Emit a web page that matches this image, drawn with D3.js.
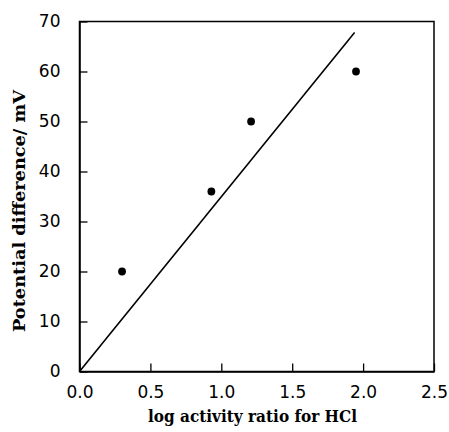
<!DOCTYPE html>
<html><head><meta charset="utf-8">
<script src="https://cdn.jsdelivr.net/npm/d3@7"></script>
<style>body{margin:0;background:#fff}svg{display:block}</style>
</head><body><svg id="c" width="449" height="432"></svg>
<script>
const xTicks = [0.0, 0.5, 1.0, 1.5, 2.0, 2.5];
const yTicks = [0, 10, 20, 30, 40, 50, 60, 70];
const pointsX = [0.30, 0.93, 1.21, 1.95];
const pointsY = [20, 36, 50, 60];
const lineX = [0, 1.94];
const lineY = [0, 67.8];
const xTitle = "log activity ratio for HCl";
const yTitle = "Potential difference/ mV";

const svg = d3.select("#c");
const L = 79.5, R = 434, T = 21.5, B = 371.5;
const x = d3.scaleLinear().domain([0, 2.5]).range([L, R]);
const y = d3.scaleLinear().domain([0, 70]).range([B, T]);

const tickFont = "DejaVu Sans, sans-serif";
const titleFont = "DejaVu Serif, serif";

// frame
svg.append("rect").attr("x", L).attr("y", T).attr("width", R - L).attr("height", B - T)
  .attr("fill", "none").attr("stroke", "#000").attr("stroke-width", 1.5);

// x axis
const xAxis = d3.axisBottom(x).tickValues(xTicks).tickFormat(d3.format(".1f")).tickSizeInner(-8).tickSizeOuter(0).tickPadding(14);
const gx = svg.append("g").attr("transform", `translate(0,${B})`).call(xAxis);
gx.select(".domain").attr("stroke-width", 1.5);
gx.selectAll(".tick line").attr("stroke-width", 1.3);
gx.selectAll(".tick text").attr("font-family", tickFont).attr("font-size", 17).attr("fill", "#000");

// y axis
const yAxis = d3.axisLeft(y).tickValues(yTicks).tickFormat(d3.format("d")).tickSizeInner(-8).tickSizeOuter(0).tickPadding(19);
const gy = svg.append("g").attr("transform", `translate(${L},0)`).call(yAxis);
gy.select(".domain").attr("stroke-width", 1.5);
gy.selectAll(".tick line").attr("stroke-width", 1.3);
gy.selectAll(".tick text").attr("font-family", tickFont).attr("font-size", 17).attr("fill", "#000");

// line
const lineData = lineX.map((d, i) => [d, lineY[i]]);
svg.append("path").datum(lineData)
  .attr("d", d3.line().x(d => x(d[0])).y(d => y(d[1])))
  .attr("fill", "none").attr("stroke", "#000").attr("stroke-width", 1.6);

// points
svg.selectAll("circle.pt").data(pointsX.map((d, i) => [d, pointsY[i]])).join("circle")
  .attr("class", "pt").attr("cx", d => x(d[0])).attr("cy", d => y(d[1])).attr("r", 3.9).attr("fill", "#000");

// titles
svg.append("text").attr("x", 252.5).attr("y", 422).attr("text-anchor", "middle")
  .attr("font-family", titleFont).attr("font-size", 16.5).attr("font-weight", "bold")
  .attr("textLength", 209).attr("lengthAdjust", "spacingAndGlyphs").text(xTitle);
svg.append("text").attr("transform", "translate(25,211) rotate(-90)").attr("text-anchor", "middle")
  .attr("font-family", titleFont).attr("font-size", 16.5).attr("font-weight", "bold")
  .attr("textLength", 242).attr("lengthAdjust", "spacingAndGlyphs").text(yTitle);
</script></body></html>
